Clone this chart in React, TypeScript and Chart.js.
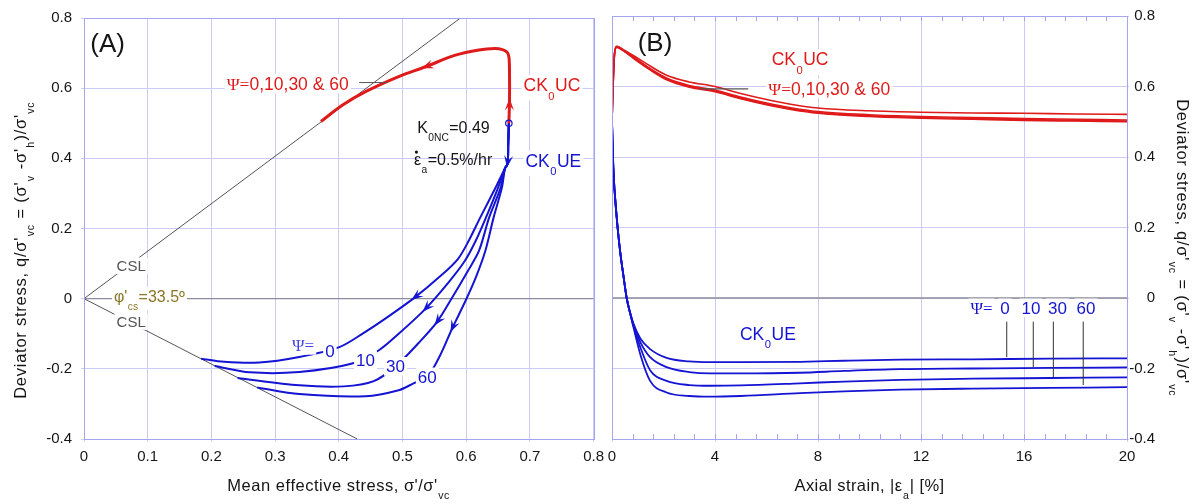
import React, { useEffect, useRef } from "react";
import { Chart, registerables } from "chart.js";
Chart.register(...registerables);

// ---------------- fonts & colours ----------------
const SANS = '"Liberation Sans", Arial, Helvetica, sans-serif';
const SERIF = '"Liberation Serif", "DejaVu Serif", serif';
const RED = "#df1a1a";
const BLUE = "#1414d2";
const LBLUE = "#4646e6";
const GRID = "#cbcbf6";
const BORDER = "#a4a4f0";
const ZERO = "#8c8c9a";
const CSLC = "#555555";
const OLIVE = "#8a7626";
const TXT = "#151515";

// ---------------- Panel A data (p'/σ'vc , q/σ'vc) ----------------
const xTicksA = [0, 0.1, 0.2, 0.3, 0.4, 0.5, 0.6, 0.7, 0.8];
const yTicks = [-0.4, -0.2, 0, 0.2, 0.4, 0.6, 0.8];

const startP = [0.667];
const startQ = [0.5];

const ucP = [0.667, 0.668, 0.668, 0.667, 0.664, 0.657, 0.645, 0.62, 0.583, 0.536, 0.494, 0.442, 0.406, 0.372];
const ucQ = [0.5, 0.56, 0.65, 0.69, 0.703, 0.71, 0.713, 0.709, 0.694, 0.661, 0.633, 0.59, 0.552, 0.505];

const ue0P = [0.667, 0.666, 0.665, 0.661, 0.646, 0.622, 0.604, 0.587, 0.56, 0.519, 0.469, 0.438, 0.401, 0.338, 0.275, 0.22, 0.184];
const ue0Q = [0.5, 0.44, 0.385, 0.372, 0.316, 0.231, 0.165, 0.113, 0.065, 0.003, -0.062, -0.099, -0.138, -0.166, -0.182, -0.18, -0.171];

const ue10P = [0.667, 0.666, 0.665, 0.661, 0.65, 0.631, 0.615, 0.598, 0.573, 0.536, 0.494, 0.463, 0.421, 0.338, 0.26, 0.205];
const ue10Q = [0.5, 0.44, 0.385, 0.372, 0.316, 0.231, 0.165, 0.108, 0.048, -0.029, -0.1, -0.147, -0.185, -0.209, -0.21, -0.192];

const ue30P = [0.667, 0.666, 0.665, 0.661, 0.654, 0.636, 0.62, 0.601, 0.579, 0.554, 0.526, 0.489, 0.455, 0.408, 0.338, 0.241];
const ue30Q = [0.5, 0.44, 0.385, 0.372, 0.316, 0.231, 0.136, 0.074, 0.006, -0.067, -0.125, -0.193, -0.235, -0.25, -0.247, -0.226];

const ue60P = [0.667, 0.666, 0.665, 0.661, 0.656, 0.643, 0.63, 0.615, 0.599, 0.578, 0.559, 0.539, 0.518, 0.494, 0.442, 0.338, 0.272];
const ue60Q = [0.5, 0.44, 0.385, 0.372, 0.316, 0.231, 0.136, 0.06, -0.006, -0.085, -0.162, -0.223, -0.241, -0.261, -0.278, -0.272, -0.253];

const cslP = [0, 0.591];
const cslQ = [0, 0.8];
const cslEP = [0, 0.429];
const cslEQ = [0, -0.4];
const zeroAP = [0, 0.8];
const zeroQ = [0, 0];

const leaderAP = [0.432, 0.475];
const leaderAQ = [0.616, 0.616];

// ---------------- Panel B data (axial strain %, q/σ'vc) ----------------
const xTicksB = [0, 4, 8, 12, 16, 20];

const ucStrain = [0, 0.05, 0.1, 0.18, 0.3, 0.5, 0.83, 1.48, 2.12, 3.0, 4.0, 5.0, 6.0, 7.0, 8.0, 10, 12, 14, 16, 18, 20];
const ucB0 = [0.5, 0.62, 0.695, 0.714, 0.711, 0.702, 0.688, 0.658, 0.632, 0.613, 0.6, 0.58, 0.563, 0.549, 0.539, 0.531, 0.527, 0.525, 0.524, 0.522, 0.521];
const ucB10 = [0.5, 0.62, 0.694, 0.713, 0.71, 0.7, 0.684, 0.651, 0.624, 0.603, 0.59, 0.57, 0.553, 0.539, 0.529, 0.52, 0.515, 0.512, 0.509, 0.507, 0.505];
const ucB30 = [0.5, 0.62, 0.694, 0.712, 0.709, 0.699, 0.682, 0.649, 0.621, 0.6, 0.587, 0.567, 0.55, 0.536, 0.526, 0.517, 0.512, 0.509, 0.506, 0.504, 0.502];
const ucB60 = [0.5, 0.62, 0.693, 0.711, 0.708, 0.698, 0.68, 0.647, 0.619, 0.598, 0.585, 0.565, 0.548, 0.534, 0.524, 0.515, 0.51, 0.507, 0.504, 0.502, 0.5];

const ueStrain = [0, 0.05, 0.18, 0.31, 0.45, 0.57, 0.7, 0.83, 1.1, 1.48, 2.12, 3.0, 3.8, 5, 7.3, 9, 11.2, 14, 17, 20];
const ueB0 = [0.5, 0.372, 0.231, 0.136, 0.06, 0.0, -0.04, -0.072, -0.115, -0.145, -0.17, -0.18, -0.182, -0.182, -0.181, -0.178, -0.175, -0.174, -0.172, -0.171];
const ueB10 = [0.5, 0.372, 0.231, 0.136, 0.06, 0.0, -0.041, -0.075, -0.125, -0.168, -0.196, -0.21, -0.214, -0.214, -0.212, -0.207, -0.202, -0.2, -0.198, -0.197];
const ueB30 = [0.5, 0.372, 0.231, 0.136, 0.06, 0.0, -0.042, -0.078, -0.14, -0.205, -0.235, -0.247, -0.249, -0.248, -0.242, -0.237, -0.232, -0.229, -0.227, -0.225];
const ueB60 = [0.5, 0.372, 0.231, 0.136, 0.06, 0.0, -0.043, -0.082, -0.16, -0.235, -0.268, -0.278, -0.28, -0.278, -0.27, -0.265, -0.26, -0.257, -0.255, -0.253];

const zeroBE = [0, 20];
const leaderBucE = [3.42, 5.29];
const leaderBucQ = [0.593, 0.593];
const leaderBueE = [15.33, 16.36, 17.14, 18.3];
const leaderBueTop = -0.067;
const leaderBueBot = [-0.168, -0.197, -0.225, -0.247];

// ---------------- rich text helper ----------------
type Seg = { t: string; sub?: boolean; serif?: boolean; dot?: boolean };
type Lbl = { segs: Seg[]; x: number; y: number; size: number; color: string; align?: "left" | "center" | "right"; bg?: boolean };

function drawRich(
  ctx: CanvasRenderingContext2D,
  segs: Seg[],
  px: number,
  py: number,
  size: number,
  color: string,
  align: "left" | "center" | "right" = "left",
  rot = 0,
  bg = false,
  ls = 0
) {
  const subSize = size * 0.64;
  let w = 0;
  let hasSub = false;
  const parts = segs.map((s) => {
    const fs = s.sub ? subSize : size;
    const font = `${fs}px ${s.serif ? SERIF : SANS}`;
    ctx.font = font;
    const chars = Array.from(s.t).map((c) => ({ c, w: ctx.measureText(c).width + ls }));
    const sw = chars.reduce((a, b) => a + b.w, 0) + (s.sub ? 1 : 0);
    const p = { s, font, chars, x: w + (s.sub ? 0.5 : 0), w: sw };
    w += sw;
    if (s.sub) hasSub = true;
    return p;
  });
  ctx.save();
  ctx.translate(px, py);
  if (rot) ctx.rotate(rot);
  const x0 = align === "center" ? -w / 2 : align === "right" ? -w : 0;
  const base = size * 0.36;
  if (bg) {
    ctx.fillStyle = "#ffffff";
    ctx.fillRect(x0 - 2, -size * 0.55, w + 4, size * 1.1 + (hasSub ? size * 0.35 : 0));
  }
  ctx.fillStyle = color;
  ctx.textAlign = "left";
  ctx.textBaseline = "alphabetic";
  for (const p of parts) {
    ctx.font = p.font;
    const y = base + (p.s.sub ? size * 0.5 : 0);
    let cx = x0 + p.x;
    for (const ch of p.chars) {
      ctx.fillText(ch.c, cx, y);
      cx += ch.w;
    }
    if (p.s.dot) {
      ctx.beginPath();
      ctx.arc(x0 + p.x + p.w * 0.35, base - size * 0.82, size * 0.1, 0, Math.PI * 2);
      ctx.fill();
    }
  }
  ctx.restore();
}

function drawLabels(chart: any, labels: Lbl[]) {
  const xs = chart.scales.x;
  const ys = chart.scales.y;
  for (const l of labels) {
    drawRich(chart.ctx, l.segs, xs.getPixelForValue(l.x), ys.getPixelForValue(l.y), l.size, l.color, l.align || "left", 0, !!l.bg);
  }
}

function drawArrows(chart: any) {
  const ctx: CanvasRenderingContext2D = chart.ctx;
  const xs = chart.scales.x;
  const ys = chart.scales.y;
  chart.data.datasets.forEach((ds: any) => {
    if (!ds.arrows) return;
    const pts = ds.data;
    const px = (j: number) => [xs.getPixelForValue(pts[j].x), ys.getPixelForValue(pts[j].y)];
    ds.arrows.forEach((k: number) => {
      const [tx, ty] = px(k);
      const [ax, ay] = px(Math.max(k - 1, 0));
      const [bx, by] = px(Math.min(k + 1, pts.length - 1));
      let dx = bx - ax;
      let dy = by - ay;
      const L = Math.hypot(dx, dy) || 1;
      dx /= L;
      dy /= L;
      const nx = -dy;
      const ny = dx;
      const len = 12;
      const hw = 4.5;
      const cx = tx + dx * 4;
      const cy = ty + dy * 4;
      ctx.save();
      ctx.fillStyle = ds.borderColor;
      ctx.beginPath();
      ctx.moveTo(cx, cy);
      ctx.lineTo(cx - dx * len + nx * hw, cy - dy * len + ny * hw);
      ctx.lineTo(cx - dx * len * 0.6, cy - dy * len * 0.6);
      ctx.lineTo(cx - dx * len - nx * hw, cy - dy * len - ny * hw);
      ctx.closePath();
      ctx.fill();
      ctx.restore();
    });
  });
}

function seg(chart: any, x1: number, y1: number, x2: number, y2: number, color: string, w: number) {
  const ctx: CanvasRenderingContext2D = chart.ctx;
  const xs = chart.scales.x;
  const ys = chart.scales.y;
  ctx.save();
  ctx.strokeStyle = color;
  ctx.lineWidth = w;
  ctx.beginPath();
  ctx.moveTo(xs.getPixelForValue(x1), ys.getPixelForValue(y1));
  ctx.lineTo(xs.getPixelForValue(x2), ys.getPixelForValue(y2));
  ctx.stroke();
  ctx.restore();
}

function frame(chart: any) {
  const { left, top, right, bottom } = chart.chartArea;
  const ctx: CanvasRenderingContext2D = chart.ctx;
  ctx.save();
  ctx.strokeStyle = BORDER;
  ctx.lineWidth = 1;
  ctx.strokeRect(Math.round(left) + 0.5, Math.round(top) + 0.5, Math.round(right - left), Math.round(bottom - top));
  ctx.restore();
}

const xy = (xa: number[], ya: number[]) => xa.map((x, i) => ({ x, y: ya[i] }));

function lineDs(data: any[], color: string, width: number, extra: any = {}) {
  return {
    data,
    borderColor: color,
    backgroundColor: color,
    borderWidth: width,
    pointRadius: 0,
    pointHoverRadius: 0,
    showLine: true,
    fill: false,
    tension: 0.35,
    ...extra,
  };
}

const fmt = (v: any) => String(Number(Number(v).toFixed(2)));

const yTitleSegs: Seg[] = [
  { t: "Deviator stress, q/σ'" },
  { t: "vc", sub: true },
  { t: " = (σ'" },
  { t: "v", sub: true },
  { t: " -σ'" },
  { t: "h", sub: true },
  { t: ")/σ'" },
  { t: "vc", sub: true },
];

// ---------------- labels ----------------
const psiRed: Seg[] = [{ t: "Ψ=", serif: true }, { t: "0,10,30 & 60" }];

const labelsA: Lbl[] = [
  { segs: [{ t: "(A)" }], x: 0.037, y: 0.73, size: 26, color: TXT, align: "center" },
  { segs: psiRed, x: 0.224, y: 0.613, size: 17.5, color: RED, bg: true },
  { segs: [{ t: "CK" }, { t: "0", sub: true }, { t: "UC" }], x: 0.69, y: 0.61, size: 17.5, color: RED, bg: true },
  { segs: [{ t: "CK" }, { t: "0", sub: true }, { t: "UE" }], x: 0.693, y: 0.394, size: 17.5, color: BLUE, bg: true },
  { segs: [{ t: "K" }, { t: "0NC", sub: true }, { t: "=0.49" }], x: 0.523, y: 0.488, size: 16, color: TXT },
  { segs: [{ t: "ε", dot: true }, { t: "a", sub: true }, { t: "=0.5%/hr" }], x: 0.518, y: 0.397, size: 16, color: TXT },
  { segs: [{ t: "CSL" }], x: 0.074, y: 0.094, size: 15, color: CSLC, align: "center", bg: true },
  { segs: [{ t: "CSL" }], x: 0.074, y: -0.065, size: 15, color: CSLC, align: "center", bg: true },
  { segs: [{ t: "φ'" }, { t: "cs", sub: true }, { t: "=33.5º" }], x: 0.047, y: 0.008, size: 16, color: OLIVE, bg: true },
  { segs: [{ t: "Ψ=", serif: true }], x: 0.344, y: -0.133, size: 17, color: LBLUE, align: "center", bg: true },
  { segs: [{ t: "0" }], x: 0.386, y: -0.15, size: 17, color: BLUE, align: "center", bg: true },
  { segs: [{ t: "10" }], x: 0.442, y: -0.174, size: 17, color: BLUE, align: "center", bg: true },
  { segs: [{ t: "30" }], x: 0.489, y: -0.193, size: 17, color: BLUE, align: "center", bg: true },
  { segs: [{ t: "60" }], x: 0.539, y: -0.223, size: 17, color: BLUE, align: "center", bg: true },
];

const labelsB: Lbl[] = [
  { segs: [{ t: "(B)" }], x: 1.67, y: 0.726, size: 26, color: TXT, align: "center" },
  { segs: [{ t: "CK" }, { t: "0", sub: true }, { t: "UC" }], x: 6.2, y: 0.678, size: 17.5, color: RED, bg: true },
  { segs: psiRed, x: 6.07, y: 0.595, size: 17.5, color: RED, bg: true },
  { segs: [{ t: "CK" }, { t: "0", sub: true }, { t: "UE" }], x: 4.97, y: -0.1, size: 17.5, color: BLUE, bg: true },
  { segs: [{ t: "Ψ=", serif: true }], x: 14.35, y: -0.028, size: 17, color: BLUE, align: "center", bg: true },
  { segs: [{ t: "0" }], x: 15.26, y: -0.028, size: 17, color: BLUE, align: "center", bg: true },
  { segs: [{ t: "10" }], x: 16.27, y: -0.028, size: 17, color: BLUE, align: "center", bg: true },
  { segs: [{ t: "30" }], x: 17.3, y: -0.028, size: 17, color: BLUE, align: "center", bg: true },
  { segs: [{ t: "60" }], x: 18.41, y: -0.028, size: 17, color: BLUE, align: "center", bg: true },
];

// ---------------- scale helpers ----------------
function xScale(min: number, max: number, ticks: number[]) {
  return {
    type: "linear",
    min,
    max,
    afterBuildTicks: (s: any) => {
      s.ticks = ticks.map((v) => ({ value: v }));
    },
    afterFit: (s: any) => {
      s.height = 65;
    },
    grid: { color: GRID, lineWidth: 1, tickLength: 3, drawTicks: true },
    border: { display: false },
    ticks: { font: { family: SANS, size: 15 }, color: TXT, padding: 6, maxRotation: 0, autoSkip: false, callback: fmt },
  };
}

function yScale(position: "left" | "right", width: number) {
  return {
    type: "linear",
    position,
    min: -0.4,
    max: 0.8,
    afterBuildTicks: (s: any) => {
      s.ticks = yTicks.map((v) => ({ value: v }));
    },
    afterFit: (s: any) => {
      s.width = width;
    },
    grid: { color: GRID, lineWidth: 1, tickLength: position === "left" ? 3 : 2, drawTicks: true },
    border: { display: false },
    ticks: {
      font: { family: SANS, size: 15 },
      color: TXT,
      padding: position === "left" ? 9 : 0,
      crossAlign: position === "left" ? "near" : "far",
      autoSkip: false,
      callback: fmt,
    },
  };
}

function cfgA(): any {
  const datasets = [
    {
      data: xy(startP, startQ),
      showLine: false,
      pointRadius: 3.2,
      pointBorderColor: BLUE,
      pointBackgroundColor: "rgba(0,0,0,0)",
      pointBorderWidth: 1.2,
    },
    lineDs(xy(ucP, ucQ), RED, 3, { arrows: [1, 9] }),
    lineDs(xy(ue0P, ue0Q), BLUE, 2, { arrows: [2, 9], tension: 0.3 }),
    lineDs(xy(ue10P, ue10Q), BLUE, 2, { arrows: [9], tension: 0.3 }),
    lineDs(xy(ue30P, ue30Q), BLUE, 2, { arrows: [9], tension: 0.3 }),
    lineDs(xy(ue60P, ue60Q), BLUE, 2, { arrows: [9], tension: 0.3 }),
    lineDs(xy(cslP, cslQ), CSLC, 1, { tension: 0 }),
    lineDs(xy(cslEP, cslEQ), CSLC, 1, { tension: 0 }),
    lineDs(xy(zeroAP, zeroQ), ZERO, 1.3, { tension: 0 }),
  ];
  return {
    type: "scatter",
    data: { datasets },
    options: {
      responsive: false,
      maintainAspectRatio: false,
      devicePixelRatio: 1,
      animation: false,
      events: [],
      layout: { padding: { left: 0, right: 15, top: 16, bottom: 0 } },
      plugins: { legend: { display: false }, tooltip: { enabled: false } },
      scales: { x: xScale(0, 0.8, xTicksA), y: yScale("left", 84) },
    },
    plugins: [
      {
        id: "annotA",
        afterDatasetsDraw(chart: any) {
          seg(chart, leaderAP[0], leaderAQ[0], leaderAP[1], leaderAQ[1], CSLC, 1);
          drawArrows(chart);
          drawLabels(chart, labelsA);
        },
        afterDraw(chart: any) {
          frame(chart);
          const ca = chart.chartArea;
          drawRich(chart.ctx, yTitleSegs, 20, 250, 16.5, TXT, "center", -Math.PI / 2, false, 0.75);
          drawRich(
            chart.ctx,
            [{ t: "Mean effective stress, σ'/σ'" }, { t: "vc", sub: true }],
            (ca.left + ca.right) / 2,
            485,
            16.5,
            TXT,
            "center",
            0,
            false,
            0.5
          );
        },
      },
    ],
  };
}

function cfgB(): any {
  const datasets = [
    lineDs(xy(ucStrain, ucB0), RED, 1.6, { cubicInterpolationMode: "monotone" }),
    lineDs(xy(ucStrain, ucB10), RED, 1.6, { cubicInterpolationMode: "monotone" }),
    lineDs(xy(ucStrain, ucB30), RED, 1.6, { cubicInterpolationMode: "monotone" }),
    lineDs(xy(ucStrain, ucB60), RED, 1.6, { cubicInterpolationMode: "monotone" }),
    lineDs(xy(ueStrain, ueB0), BLUE, 1.8, { cubicInterpolationMode: "monotone" }),
    lineDs(xy(ueStrain, ueB10), BLUE, 1.8, { cubicInterpolationMode: "monotone" }),
    lineDs(xy(ueStrain, ueB30), BLUE, 1.8, { cubicInterpolationMode: "monotone" }),
    lineDs(xy(ueStrain, ueB60), BLUE, 1.8, { cubicInterpolationMode: "monotone" }),
    lineDs(xy(zeroBE, zeroQ), ZERO, 1.3, { tension: 0 }),
  ];
  return {
    type: "scatter",
    data: { datasets },
    options: {
      responsive: false,
      maintainAspectRatio: false,
      devicePixelRatio: 1,
      animation: false,
      events: [],
      layout: { padding: { left: 14, right: 43, top: 16, bottom: 0 } },
      plugins: { legend: { display: false }, tooltip: { enabled: false } },
      scales: { x: xScale(0, 20, xTicksB), y: yScale("right", 28) },
    },
    plugins: [
      {
        id: "annotB",
        afterDatasetsDraw(chart: any) {
          // minor ticks along top and bottom edges
          const ctx: CanvasRenderingContext2D = chart.ctx;
          const xs = chart.scales.x;
          const { top, bottom } = chart.chartArea;
          ctx.save();
          ctx.strokeStyle = BORDER;
          ctx.lineWidth = 1;
          for (let i = 1; i < 25; i++) {
            const px = Math.round(xs.getPixelForValue(i * 0.8)) + 0.5;
            ctx.beginPath();
            ctx.moveTo(px, top);
            ctx.lineTo(px, top + 5);
            ctx.moveTo(px, bottom);
            ctx.lineTo(px, bottom - 5);
            ctx.stroke();
          }
          ctx.restore();
          seg(chart, leaderBucE[0], leaderBucQ[0], leaderBucE[1], leaderBucQ[1], CSLC, 1.2);
          leaderBueE.forEach((e, i) => seg(chart, e, leaderBueTop, e, leaderBueBot[i], "#333333", 1));
          drawLabels(chart, labelsB);
        },
        afterDraw(chart: any) {
          frame(chart);
          const ca = chart.chartArea;
          drawRich(chart.ctx, yTitleSegs, 1183 - 598, 248, 16.5, TXT, "center", Math.PI / 2, false, 0.75);
          drawRich(
            chart.ctx,
            [{ t: "Axial strain, |ε" }, { t: "a", sub: true }, { t: "| [%]" }],
            (ca.left + ca.right) / 2,
            485,
            16.5,
            TXT,
            "center",
            0,
            false,
            0.4
          );
        },
      },
    ],
  };
}

export default function App() {
  const refA = useRef<HTMLCanvasElement>(null);
  const refB = useRef<HTMLCanvasElement>(null);
  useEffect(() => {
    const a = new Chart(refA.current as HTMLCanvasElement, cfgA());
    const b = new Chart(refB.current as HTMLCanvasElement, cfgB());
    return () => {
      a.destroy();
      b.destroy();
    };
  }, []);
  return (
    <div
      style={{
        position: "fixed",
        left: 0,
        top: 0,
        width: 1198,
        height: 504,
        background: "#ffffff",
        overflow: "hidden",
      }}
    >
      <canvas
        ref={refA}
        width={610}
        height={504}
        style={{ position: "absolute", left: 0, top: 0, width: 610, height: 504 }}
      />
      <canvas
        ref={refB}
        width={600}
        height={504}
        style={{ position: "absolute", left: 598, top: 0, width: 600, height: 504 }}
      />
    </div>
  );
}
